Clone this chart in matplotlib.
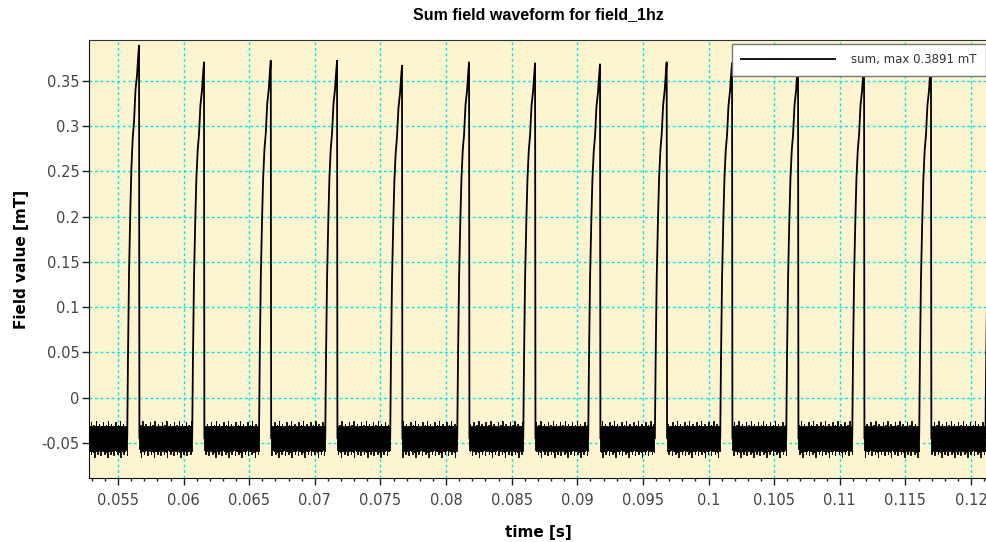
import numpy as np
import matplotlib
matplotlib.use("Agg")
import matplotlib.pyplot as plt
from matplotlib.ticker import MultipleLocator, FuncFormatter

OUT_PATH = "out.png"

# pulse peaks (time in s, field in mT)
peak_times = [0.0566, 0.06155, 0.06664, 0.07169, 0.07664, 0.08175, 0.08678,
              0.09173, 0.09681, 0.10179, 0.10682, 0.11185, 0.11695, 0.12200]
peak_values = [0.3891, 0.3707, 0.3725, 0.3725, 0.367, 0.3707, 0.3696,
               0.3685, 0.3707, 0.370, 0.370, 0.370, 0.370, 0.370]

# shape of the rising edge, relative to the peak (ms before peak, fraction of peak)
rise_offset_ms = [-0.90, -0.84, -0.76, -0.66, -0.58, -0.48, -0.38, -0.27, -0.15, -0.08, 0.0]
rise_frac = [0.0, 0.117, 0.357, 0.536, 0.653, 0.738, 0.785, 0.873, 0.917, 0.959, 1.0]
fall_offset_ms = 0.03

baseline = -0.045
# envelope of the noise band between pulses (mT)
noise_top = [-0.032, -0.031, -0.033, -0.031, -0.027, -0.032, -0.031, -0.033, -0.032,
             -0.030, -0.032, -0.033, -0.031, -0.026, -0.032, -0.031, -0.032, -0.033,
             -0.031, -0.029, -0.033, -0.031, -0.032]
noise_bot = [-0.058, -0.059, -0.057, -0.058, -0.063, -0.058, -0.059, -0.057, -0.060,
             -0.058, -0.066, -0.058, -0.057, -0.059, -0.058, -0.059, -0.062, -0.058,
             -0.059, -0.057, -0.058, -0.058, -0.064, -0.059, -0.058]

x_min, x_max = 0.05279, 0.12122
y_min, y_max = -0.089, 0.3954

fig = plt.figure(figsize=(9.87, 5.42), dpi=100)
ax = fig.add_axes([0.0902, 0.1181, 0.9098, 0.8081])
ax.set_facecolor("#fdf5d0")

# noise band segments between pulses
seg_starts = [x_min] + [t + fall_offset_ms / 1000 for t in peak_times[:-1]]
seg_ends = [t + rise_offset_ms[0] / 1000 for t in peak_times]
dt = 0.00004
for k, (s, e) in enumerate(zip(seg_starts, seg_ends)):
    xs = np.arange(s, e, dt)
    idx = np.arange(len(xs)) + 7 * k
    top = [noise_top[i % len(noise_top)] for i in idx]
    bot = [noise_bot[i % len(noise_bot)] for i in idx]
    ax.fill_between(xs, bot, top, step="mid", color="black", lw=0.6, zorder=3)

# pulses
for k, (tp, vp) in enumerate(zip(peak_times, peak_values)):
    xs = [tp + o / 1000 for o in rise_offset_ms] + [tp + fall_offset_ms / 1000]
    ys = [baseline] + [vp * f for f in rise_frac[1:]] + [baseline]
    ax.plot(xs, ys, color="black", lw=1.3, zorder=4,
            label="sum, max 0.3891 mT" if k == 0 else None)

ax.set_xlim(x_min, x_max)
ax.set_ylim(y_min, y_max)

ax.xaxis.set_major_locator(MultipleLocator(0.005))
ax.xaxis.set_minor_locator(MultipleLocator(0.001))
ax.yaxis.set_major_locator(MultipleLocator(0.05))
fmt = FuncFormatter(lambda v, p: f"{v:g}" if abs(v) > 1e-12 else "0")
ax.xaxis.set_major_formatter(fmt)
ax.yaxis.set_major_formatter(fmt)

ax.grid(True, which="major", color="#00e8e8", linestyle=(0, (2, 2)), lw=1.0, zorder=1)
ax.tick_params(axis="both", which="major", length=5, width=1, color="#222",
               labelsize=10.5, labelcolor="#444")
ax.tick_params(axis="x", which="minor", length=2, width=1, color="#222")
ax.tick_params(axis="y", pad=2)
ax.tick_params(axis="x", pad=6)

for side in ["left", "bottom"]:
    ax.spines[side].set_color("#111")
ax.spines["top"].set_color("#333")
ax.spines["right"].set_visible(False)

ax.set_title("Sum field waveform for field_1hz", fontsize=11.5, fontweight="bold",
             family="Liberation Sans", pad=15)
ax.set_xlabel("time [s]", fontsize=11, fontweight="bold", labelpad=12)
ax.set_ylabel("Field value [mT]", fontsize=11, fontweight="bold", labelpad=9)

leg = ax.legend(loc="upper right", bbox_to_anchor=(0.9986, 0.991), borderaxespad=0,
                fancybox=False, framealpha=1, edgecolor="#777", fontsize=8.5,
                handlelength=8.0, handletextpad=1.3, borderpad=0.8)
leg.get_frame().set_linewidth(1.0)
for t in leg.get_texts():
    t.set_color("#333")
leg.set_zorder(10)

plt.savefig(OUT_PATH, dpi=100)
